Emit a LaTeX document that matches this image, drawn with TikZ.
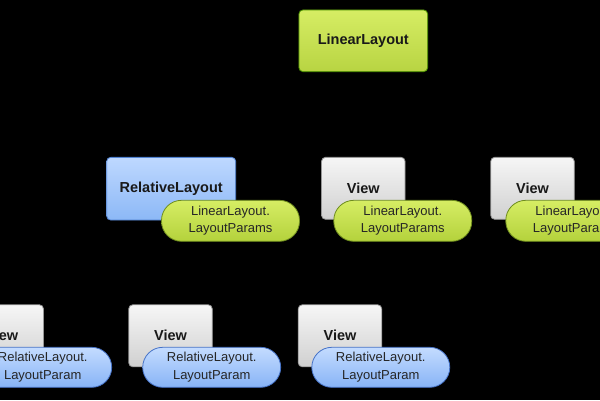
\documentclass[tikz,border=0pt]{standalone}
\usepackage{fontspec}
\setmainfont{Liberation Sans}
\begin{document}
\begin{tikzpicture}[x=1pt,y=-1pt,
  box/.style={draw, line width=0.8pt, rounded corners=4pt, inner sep=0pt,
    minimum height=62pt, font=\fontsize{14.5}{17}\selectfont\bfseries, text=black!90},
  greenbox/.style={box, draw=green!40!black!70!yellow, top color={rgb,255:red,214;green,237;blue,100}, bottom color={rgb,255:red,184;green,212;blue,66}},
  bluebox/.style={box, draw={rgb,255:red,80;green,130;blue,210}, top color={rgb,255:red,190;green,216;blue,255}, bottom color={rgb,255:red,140;green,184;blue,246}},
  graybox/.style={box, draw={rgb,255:red,150;green,150;blue,150}, top color={rgb,255:red,246;green,246;blue,246}, bottom color={rgb,255:red,208;green,208;blue,208}, minimum width=83.5pt},
  pill/.style={draw, line width=0.8pt, rounded corners=20pt, inner sep=0pt,
    minimum width=138pt, minimum height=41pt, align=center,
    font=\fontsize{13}{17.5}\selectfont, text=black!85},
  greenpill/.style={pill, draw={rgb,255:red,110;green,140;blue,30}, top color={rgb,255:red,214;green,237;blue,100}, bottom color={rgb,255:red,180;green,210;blue,60}},
  bluepill/.style={pill, draw={rgb,255:red,70;green,115;blue,200}, top color={rgb,255:red,196;green,220;blue,255}, bottom color={rgb,255:red,136;green,180;blue,246}, minimum height=40pt}
]
\fill[black] (0,0) rectangle (600,400);
\useasboundingbox (0,0) rectangle (600,400);

\node[greenbox, minimum width=128.7pt, minimum height=61.7pt] (ll) at (363.3,40.8) {LinearLayout};

\node[bluebox, minimum width=129pt, minimum height=62.7pt] (rl) at (171.2,188.7) {RelativeLayout};
\node[greenpill] (pa) at (230.5,220.8) {LinearLayout.\\LayoutParams};

\node[graybox] (vb) at (363.3,188.3) {View};
\node[greenpill] (pb) at (402.8,220.8) {LinearLayout.\\LayoutParams};

\node[graybox] (vc) at (532.5,188.3) {View};
\node[greenpill] (pc) at (574.8,220.8) {LinearLayout.\\LayoutParams};

\node[graybox] (vd) at (1.7,335.8) {View};
\node[bluepill] (pd) at (42.7,367.3) {RelativeLayout.\\LayoutParam};

\node[graybox] (ve) at (170.5,335.8) {View};
\node[bluepill] (pe) at (211.7,367.3) {RelativeLayout.\\LayoutParam};

\node[graybox] (vf) at (340,335.8) {View};
\node[bluepill] (pf) at (380.8,367.3) {RelativeLayout.\\LayoutParam};
\end{tikzpicture}
\end{document}
